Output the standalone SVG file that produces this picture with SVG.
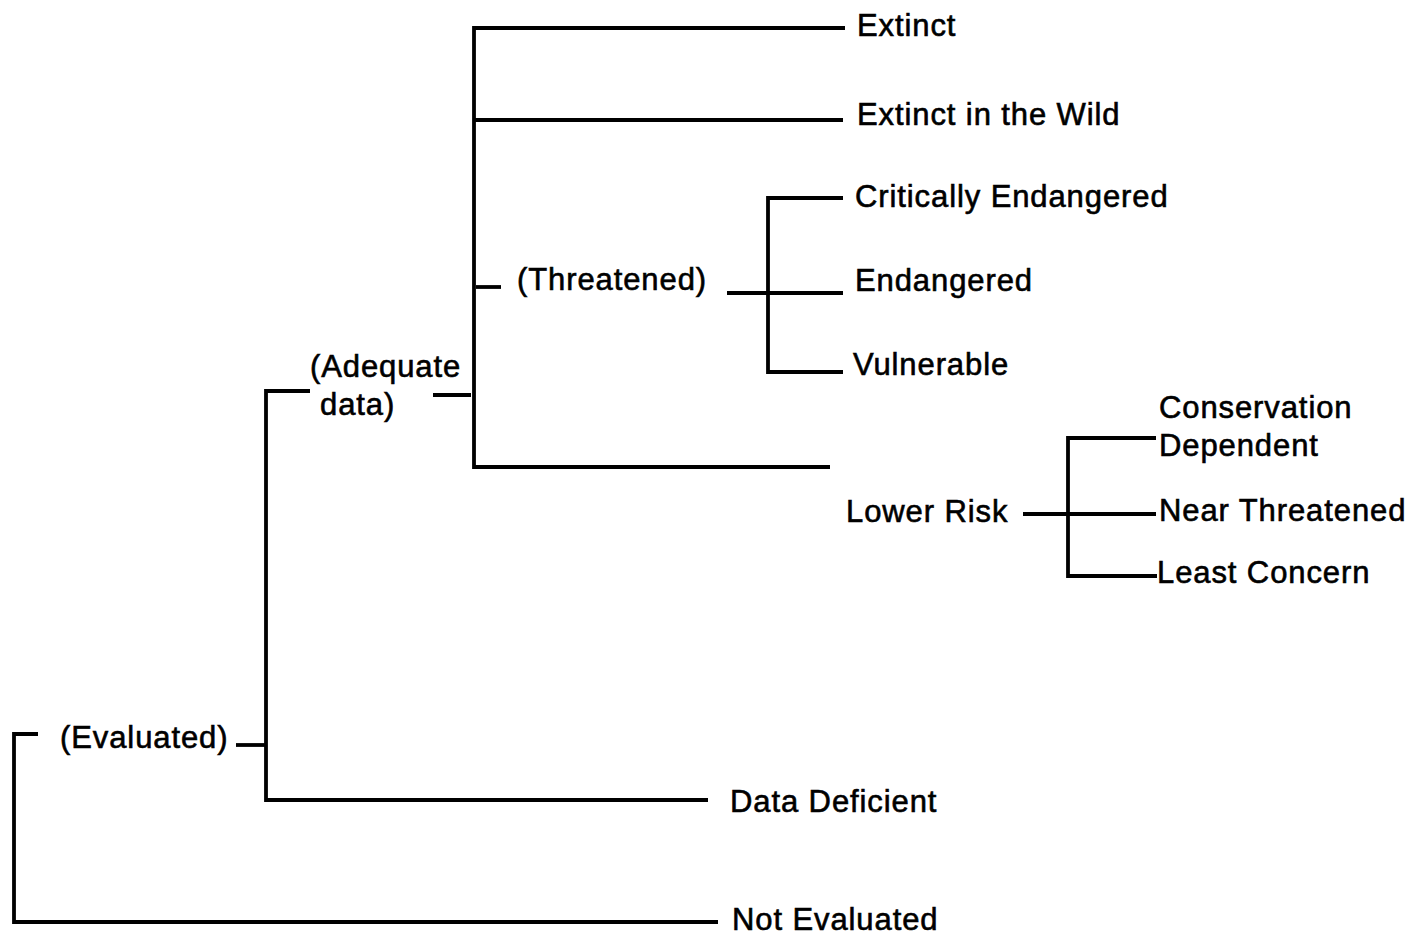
<svg xmlns="http://www.w3.org/2000/svg" width="1421" height="936" viewBox="0 0 1421 936">
  <style>
    .lbl { font-family: "Liberation Sans", Arial, sans-serif; font-size: 31px; letter-spacing: 0.9px; fill: #000; stroke: #000; stroke-width: 0.6px; }
    .ln { stroke: #000; stroke-width: 3.8; fill: none; stroke-linecap: butt; stroke-linejoin: miter; }
  </style>
  <rect width="1421" height="936" fill="#fff"/>

  <g id="connectors">
    <!-- root bracket -->
    <path class="ln" d="M38 734 H14 V922 H718"/>
    <!-- evaluated bracket -->
    <path class="ln" d="M236 745 H265"/>
    <path class="ln" d="M310 391 H266 V800 H708"/>
    <!-- adequate data bracket -->
    <path class="ln" d="M433 395 H471"/>
    <path class="ln" d="M845 28 H474 V467 H830"/>
    <path class="ln" d="M474 120 H843"/>
    <path class="ln" d="M476 287 H501"/>
    <!-- threatened bracket -->
    <path class="ln" d="M727 293 H843"/>
    <path class="ln" d="M843 198 H768 V372 H843"/>
    <!-- lower risk bracket -->
    <path class="ln" d="M1023 514 H1156"/>
    <path class="ln" d="M1156 438 H1068 V576 H1157"/>
  </g>

  <g id="node-not-evaluated"><text class="lbl" x="732" y="930">Not Evaluated</text></g>
  <g id="node-evaluated"><text class="lbl" x="60" y="748">(Evaluated)</text></g>
  <g id="node-data-deficient"><text class="lbl" x="730" y="812">Data Deficient</text></g>
  <g id="node-adequate-data">
    <text class="lbl" x="310" y="377">(Adequate</text>
    <text class="lbl" x="320" y="415">data)</text>
  </g>
  <g id="node-extinct"><text class="lbl" x="857" y="36">Extinct</text></g>
  <g id="node-extinct-wild"><text class="lbl" x="857" y="125">Extinct in the Wild</text></g>
  <g id="node-threatened"><text class="lbl" x="517" y="290">(Threatened)</text></g>
  <g id="node-critically-endangered"><text class="lbl" x="855" y="207">Critically Endangered</text></g>
  <g id="node-endangered"><text class="lbl" x="855" y="291">Endangered</text></g>
  <g id="node-vulnerable"><text class="lbl" x="853" y="375">Vulnerable</text></g>
  <g id="node-lower-risk"><text class="lbl" x="846" y="522">Lower Risk</text></g>
  <g id="node-conservation-dependent">
    <text class="lbl" x="1159" y="418">Conservation</text>
    <text class="lbl" x="1159" y="456">Dependent</text>
  </g>
  <g id="node-near-threatened"><text class="lbl" x="1159" y="521">Near Threatened</text></g>
  <g id="node-least-concern"><text class="lbl" x="1157" y="583">Least Concern</text></g>
</svg>
